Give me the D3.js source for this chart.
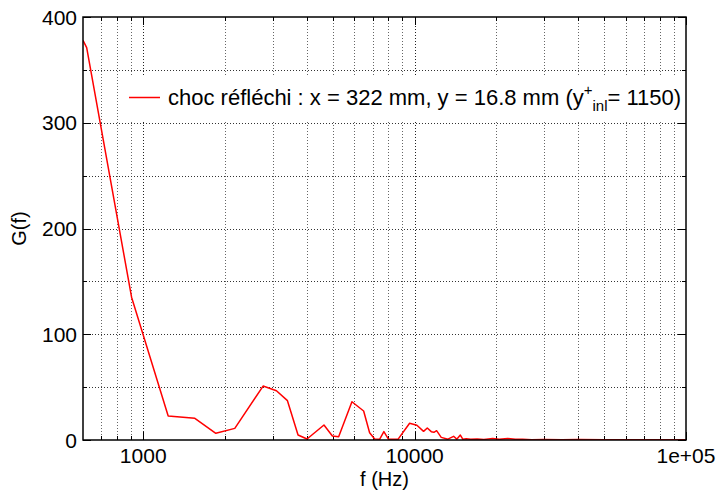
<!DOCTYPE html>
<html><head><meta charset="utf-8">
<script src="https://cdn.jsdelivr.net/npm/d3@7"></script>
<style>body{margin:0;background:#fff}svg{display:block;font-family:"Liberation Sans",Arial,Helvetica,sans-serif}</style>
</head><body><svg id="c" width="719" height="492"></svg>
<script>
// ---- data ----
const freq = [600, 619, 906, 1236, 1550, 1852, 2175, 2765, 3097, 3400, 3720, 4015, 4635, 4977, 5250, 5876, 6490, 6827, 7125, 7430, 7705, 8020, 8683, 9585, 10197, 10790, 11135, 11520, 11780, 12050, 12535, 13265, 13920, 14300, 14740, 15050, 15490, 16100, 17000, 18000, 19400, 20500, 22050, 23500, 25000, 27000, 30000, 35000, 40000, 50000, 60000, 75000, 100000];
const gval = [378, 371, 135, 22.7, 20.5, 6.3, 11, 51, 46.6, 37.2, 4.7, 0.9, 14.2, 3.8, 3.1, 36.2, 27.4, 6.9, 0.9, 0.7, 7.9, 0.6, 0.6, 15.8, 13.9, 8.2, 11.3, 7.9, 7.3, 8.8, 2.5, 0.8, 3.5, 0.8, 4.7, 0.8, 1.2, 0.6, 0.9, 0.5, 1.4, 0.6, 1.5, 0.6, 0.8, 0.3, 0.5, 0.3, 0.4, 0.2, 0.3, 0.2, 0.2];
const xMajor = [1000, 10000, 100000];
const xMajorLabels = ["1000", "10000", "1e+05"];
const xMinor = [700, 800, 900, 2000, 3000, 4000, 5000, 6000, 7000, 8000, 9000, 20000, 30000, 40000, 50000, 60000, 70000, 80000, 90000];
const yMajor = [0, 100, 200, 300, 400];
const yMinor = [50, 150, 250, 350];
const seriesLabel = "choc réfléchi : x = 322 mm, y = 16.8 mm (y";
const xTitle = "f (Hz)";
const yTitle = "G(f)";

// ---- layout ----
const L = 83, R = 686, T = 17, B = 440;
const svg = d3.select("#c");
const x = d3.scaleLog().domain([600, 100000]).range([L, R]);
const y = d3.scaleLinear().domain([0, 400]).range([B, T]);

// grid
const grid = svg.append("g").attr("stroke-width", 1).attr("stroke-dasharray", "1,2");
grid.selectAll("line.vmin").data(xMinor).join("line")
  .attr("stroke", "#666")
  .attr("x1", d => Math.round(x(d)) + 0.5).attr("x2", d => Math.round(x(d)) + 0.5)
  .attr("y1", T).attr("y2", B);
grid.selectAll("line.vmaj").data([1000, 10000]).join("line")
  .attr("stroke", "#222")
  .attr("x1", d => Math.round(x(d)) + 0.5).attr("x2", d => Math.round(x(d)) + 0.5)
  .attr("y1", T).attr("y2", B);
grid.selectAll("line.h").data(yMinor.concat([100, 200, 300])).join("line")
  .attr("stroke", "#333")
  .attr("y1", d => Math.round(y(d)) + 0.5).attr("y2", d => Math.round(y(d)) + 0.5)
  .attr("x1", L).attr("x2", R);

// ticks (inward, mirrored)
const tk = svg.append("g").attr("stroke", "#000").attr("stroke-width", 1);
function vt(vals, len) {
  vals.forEach(d => {
    const px = Math.round(x(d)) + 0.5;
    tk.append("line").attr("x1", px).attr("x2", px).attr("y1", B).attr("y2", B - len);
    tk.append("line").attr("x1", px).attr("x2", px).attr("y1", T).attr("y2", T + len);
  });
}
function ht(vals, len) {
  vals.forEach(d => {
    const py = Math.round(y(d)) + 0.5;
    tk.append("line").attr("y1", py).attr("y2", py).attr("x1", L).attr("x2", L + len);
    tk.append("line").attr("y1", py).attr("y2", py).attr("x1", R).attr("x2", R - len);
  });
}
vt(xMajor, 8); vt(xMinor, 4); ht(yMajor, 8); ht(yMinor, 4);

// legend background
const lg = svg.append("g");
lg.append("rect").attr("x", 123).attr("y", 77).attr("width", 562).attr("height", 44).attr("fill", "#fff");

// data line
svg.append("clipPath").attr("id", "clip").append("rect").attr("x", L).attr("y", T).attr("width", R - L).attr("height", B - T);
const pts = freq.map((f, i) => [f, gval[i]]);
svg.append("path").datum(pts)
  .attr("clip-path", "url(#clip)")
  .attr("fill", "none").attr("stroke", "#ff0000").attr("stroke-width", 1.5).attr("stroke-linejoin", "round")
  .attr("d", d3.line().x(d => x(d[0])).y(d => y(d[1])));

// border
svg.append("rect").attr("x", L).attr("y", T).attr("width", R - L).attr("height", B - T)
  .attr("fill", "none").attr("stroke", "#000").attr("stroke-width", 1.5);

// legend content
lg.append("line").attr("x1", 129).attr("x2", 160).attr("y1", 97.5).attr("y2", 97.5).attr("stroke", "#ff0000").attr("stroke-width", 1.5);
const lt = lg.append("text").attr("x", 168).attr("y", 105).attr("font-size", 22).attr("fill", "#000");
lt.append("tspan").text(seriesLabel);
lt.append("tspan").attr("font-size", 15).attr("dy", -10).text("+");
lt.append("tspan").attr("font-size", 15).attr("dy", 16).text("inl");
lt.append("tspan").attr("dy", -6).text("= 1150)");

// tick labels
const tl = svg.append("g").attr("font-size", 21).attr("fill", "#000");
tl.selectAll("text.y").data(yMajor).join("text")
  .attr("x", 77).attr("y", d => y(d) + 7.5).attr("text-anchor", "end").text(d => d);
tl.selectAll("text.x").data(xMajor).join("text")
  .attr("x", d => x(d)).attr("y", 463).attr("text-anchor", "middle").text((d, i) => xMajorLabels[i]);

// axis titles
svg.append("text").attr("x", (L + R) / 2).attr("y", 486).attr("text-anchor", "middle").attr("font-size", 20).text(xTitle);
svg.append("text").attr("transform", `translate(26,${(T + B) / 2}) rotate(-90)`).attr("text-anchor", "middle").attr("font-size", 20).text(yTitle);
</script>
</body></html>
